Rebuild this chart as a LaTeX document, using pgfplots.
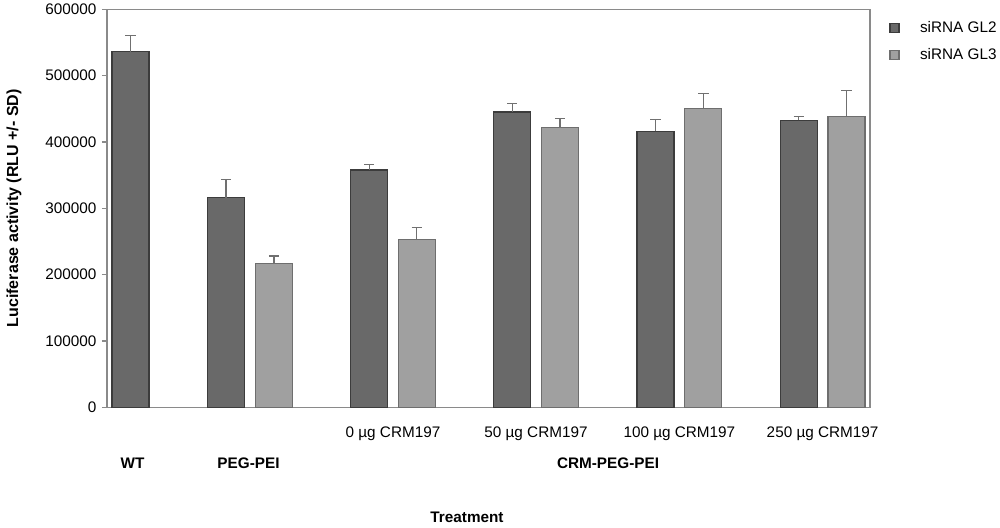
\documentclass[border=0pt]{standalone}
\usepackage{pgfplots}
\pgfplotsset{compat=1.18}
\usepackage{fontspec}
\setmainfont{Liberation Sans}
\definecolor{gltwo}{HTML}{696969}
\definecolor{gltwoedge}{HTML}{3C3C3C}
\definecolor{glthree}{HTML}{A0A0A0}
\definecolor{glthreeedge}{HTML}{6E6E6E}
\definecolor{errc}{HTML}{707070}
\definecolor{axc}{HTML}{8A8A8A}
\begin{document}
\fontsize{7.65}{9}\selectfont
\begin{tikzpicture}
\path[use as bounding box] (-53.5pt,-59.85pt) rectangle (446.5pt,203.65pt);
\begin{axis}[
  at={(0,0)}, anchor=south west,
  scale only axis, width=381.5pt, height=199pt,
  xmin=107, xmax=870, ymin=0, ymax=600000,
  ybar, bar width=37, bar shift=0pt,
  clip=false,
  axis line style={color=axc, line width=0.55pt},
  ytick={0,100000,200000,300000,400000,500000,600000},
  yticklabels={0,100000,200000,300000,400000,500000,600000},
  ytick pos=left, tick align=outside,
  major tick length=2.5pt,
  tick style={color=axc, line width=0.55pt},
  xtick={393,536,679.4,822.6},
  xticklabels={0 µg CRM197, 50 µg CRM197, 100 µg CRM197, 250 µg CRM197},
  x tick style={draw=none},
  xtick pos=bottom,
  xticklabel style={font=\fontsize{7.65}{9}\selectfont, anchor=center, yshift=-10.5pt},
  yticklabel style={font=\fontsize{7.65}{9}\selectfont},
  scaled y ticks=false,
  legend style={draw=none, fill=none, at={(rel axis cs:1.025,0.97)}, anchor=north west,
    font=\fontsize{7.65}{9}\selectfont, row sep=6.6pt, inner sep=0pt,
    nodes={inner xsep=2pt, inner ysep=0pt}},
  legend cell align=left,
  legend image code/.code={\draw[#1] (0pt,-2.25pt) rectangle (4.5pt,2.25pt); \path[draw=none,fill=none] (0pt,0pt) -- (13pt,0pt);},
  error bars/error bar style={color=errc, line width=0.6pt},
  error bars/error mark options={rotate=90, mark size=2.6pt, color=errc, line width=0.6pt},
]
\addplot[fill=gltwo, draw=gltwoedge, line width=0.6pt,
  error bars/.cd, y dir=plus, y explicit]
  coordinates {
  (130.5,536000) +- (0,24000)
  (226,316000) +- (0,27000)
  (369.2,357800) +- (0,8000)
  (512.2,445200) +- (0,12500)
  (655.5,416100) +- (0,18000)
  (798.7,432700) +- (0,5500)
  };
\addlegendentry{siRNA GL2}
\addplot[fill=glthree, draw=glthreeedge, line width=0.6pt,
  error bars/.cd, y dir=plus, y explicit]
  coordinates {
  (274,217100) +- (0,11000)
  (416.8,252700) +- (0,18000)
  (560,421600) +- (0,14000)
  (703.3,450800) +- (0,22000)
  (846.5,438700) +- (0,38500)
  };
\addlegendentry{siRNA GL3}
\end{axis}
\node[font=\fontsize{7.65}{9}\selectfont\bfseries] at (12.75pt,-27.85pt) {WT};
\node[font=\fontsize{7.65}{9}\selectfont\bfseries] at (70.75pt,-27.85pt) {PEG-PEI};
\node[font=\fontsize{7.65}{9}\selectfont\bfseries] at (250.5pt,-27.85pt) {CRM-PEG-PEI};
\node[font=\fontsize{7.65}{9}\selectfont\bfseries] at (180pt,-54.85pt) {Treatment};
\node[font=\fontsize{8}{9.5}\selectfont\bfseries, rotate=90] at (-46.5pt,99.5pt) {Luciferase activity (RLU +/- SD)};
\end{tikzpicture}
\end{document}
